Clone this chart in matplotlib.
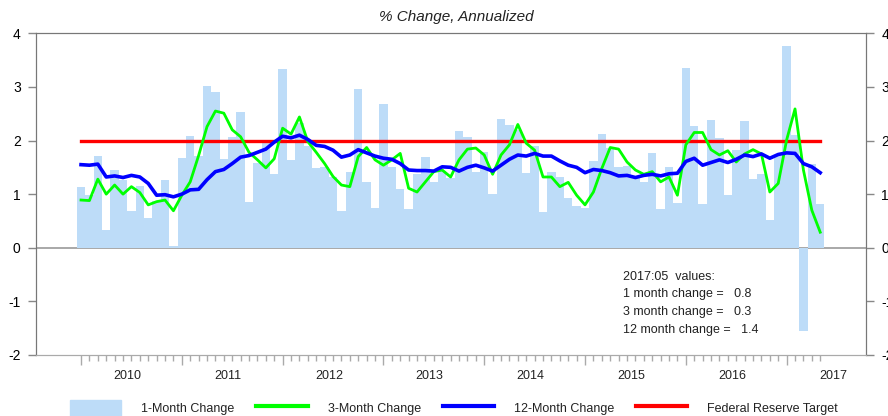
import numpy as np
import matplotlib.pyplot as plt
from matplotlib.patches import Patch
from matplotlib.lines import Line2D

plt.rcParams['font.family'] = ['Liberation Sans', 'DejaVu Sans']
plt.rcParams['axes.unicode_minus'] = False

# monthly data, 2010:01 .. 2017:05
years = ['2010', '2011', '2012', '2013', '2014', '2015', '2016', '2017']

one_month = [1.13, 0.99, 1.71, 0.33, 1.45, 1.26, 0.68, 1.16, 0.55, 0.87, 1.26, 0.03,
             1.68, 2.08, 1.72, 3.02, 2.90, 1.65, 2.06, 2.53, 0.86, 1.58, 1.95, 1.37,
             3.33, 1.64, 2.32, 1.90, 1.48, 1.51, 1.32, 0.68, 1.42, 2.97, 1.22, 0.75,
             2.69, 1.51, 1.10, 0.73, 1.37, 1.69, 1.22, 1.44, 1.30, 2.18, 2.07, 1.42,
             1.78, 1.01, 2.41, 2.29, 2.20, 1.39, 1.90, 0.67, 1.42, 1.32, 0.92, 0.78,
             0.75, 1.62, 2.12, 1.87, 1.51, 1.52, 1.32, 1.23, 1.76, 0.73, 1.51, 0.83,
             3.35, 2.28, 0.81, 2.39, 2.04, 0.99, 1.82, 2.37, 1.29, 1.37, 0.52, 1.71,
             3.76, 2.10, -1.55, 1.56, 0.81]

three_month = [0.89, 0.88, 1.28, 1.00, 1.17, 1.00, 1.14, 1.03, 0.80, 0.86, 0.89, 0.69,
               0.98, 1.23, 1.72, 2.26, 2.55, 2.51, 2.20, 2.07, 1.78, 1.64, 1.49, 1.66,
               2.23, 2.12, 2.44, 1.98, 1.78, 1.57, 1.33, 1.17, 1.14, 1.70, 1.87, 1.64,
               1.54, 1.64, 1.76, 1.11, 1.04, 1.23, 1.42, 1.45, 1.32, 1.64, 1.84, 1.86,
               1.73, 1.37, 1.73, 1.92, 2.30, 1.95, 1.82, 1.32, 1.32, 1.14, 1.22, 0.98,
               0.80, 1.04, 1.48, 1.87, 1.84, 1.60, 1.45, 1.37, 1.42, 1.23, 1.32, 0.98,
               1.92, 2.15, 2.15, 1.83, 1.73, 1.81, 1.60, 1.75, 1.83, 1.75, 1.04, 1.20,
               2.01, 2.59, 1.45, 0.70, 0.29]

twelve_month = [1.55, 1.54, 1.56, 1.32, 1.34, 1.31, 1.35, 1.32, 1.20, 0.98, 0.99, 0.95,
                1.00, 1.08, 1.09, 1.27, 1.42, 1.46, 1.57, 1.69, 1.72, 1.78, 1.84, 1.97,
                2.08, 2.05, 2.10, 2.02, 1.91, 1.89, 1.82, 1.69, 1.73, 1.83, 1.77, 1.71,
                1.67, 1.65, 1.57, 1.45, 1.44, 1.44, 1.43, 1.51, 1.50, 1.43, 1.50, 1.54,
                1.49, 1.43, 1.54, 1.65, 1.73, 1.71, 1.76, 1.71, 1.71, 1.62, 1.54, 1.50,
                1.40, 1.46, 1.44, 1.40, 1.34, 1.35, 1.31, 1.35, 1.37, 1.34, 1.38, 1.39,
                1.61, 1.67, 1.54, 1.59, 1.64, 1.59, 1.65, 1.73, 1.70, 1.75, 1.67, 1.74,
                1.77, 1.76, 1.57, 1.51, 1.40]

fed_target = 2.0
last_month = '2017:05'

x = np.arange(len(one_month))

fig = plt.figure(figsize=(8.88, 4.16), dpi=100)
ax = fig.add_axes([36 / 888, 1 - 355 / 416, 830 / 888, 321.7 / 416])

ax.axhline(0, color='#999999', lw=1.2, zorder=0)
ax.bar(x, one_month, width=1.0, color='#bddcf8', zorder=1)
ax.plot([x[0], x[-1]], [fed_target, fed_target], color='#ff0000', lw=2.4, zorder=2)
ax.plot(x, three_month, color='#00ff00', lw=2.0, zorder=3)
ax.plot(x, twelve_month, color='#0000ff', lw=2.6, zorder=4)

ax.set_xlim(-5.36, 93.45)
ax.set_ylim(-2, 4)

# x axis: long ticks at January, short ticks every month
ax.set_xticks(x[::12])
ax.set_xticks(x, minor=True)
ax.set_xticklabels([])
ax.tick_params(axis='x', which='major', length=7, width=1, color='#aaaaaa')
ax.tick_params(axis='x', which='minor', length=4, width=1, color='#aaaaaa')
for k, yr in enumerate(years):
    ax.text(12 * k + 5.5, -0.066, yr, transform=ax.get_xaxis_transform(),
            ha='center', va='center', fontsize=9, color='#222222')

ax.set_yticks(range(-2, 5))
ax.tick_params(axis='y', length=6, width=1, color='#888888', labelsize=10, pad=5)

# right-hand copy of the y axis (cut off by the image edge, as in the original)
ax2 = ax.twinx()
ax2.set_ylim(-2, 4)
ax2.set_yticks(range(-2, 5))
ax2.tick_params(axis='y', length=6, width=1, color='#888888', labelsize=10, pad=5)

for a in (ax, ax2):
    for side in ['left', 'right', 'top']:
        a.spines[side].set_color('#777777')
    a.spines['bottom'].set_color('#aaaaaa')

fig.text(456 / 888, 1 - 17 / 416, '% Change, Annualized', ha='center', va='center',
         fontsize=11, style='italic', color='#222222')

notes = [last_month + '  values:',
         '1 month change =   %.1f' % one_month[-1],
         '3 month change =   %.1f' % three_month[-1],
         '12 month change =   %.1f' % twelve_month[-1]]
for n, line in enumerate(notes):
    fig.text(623 / 888, 1 - (277 + 17.5 * n) / 416, line, ha='left', va='center',
             fontsize=9, color='#222222')

handles = [Patch(color='#bddcf8'),
           Line2D([], [], color='#00ff00', lw=3),
           Line2D([], [], color='#0000ff', lw=3),
           Line2D([], [], color='#ff0000', lw=3)]
labels = ['1-Month Change', '3-Month Change', '12-Month Change', 'Federal Reserve Target']
fig.legend(handles, labels, loc='center', bbox_to_anchor=(454 / 888, 1 - 408 / 416),
           ncol=4, frameon=False, fontsize=9, handlelength=4.1, handleheight=1.6,
           handletextpad=1.6, columnspacing=1.76, labelcolor='#222222')

fig.savefig('out.png', dpi=100)
